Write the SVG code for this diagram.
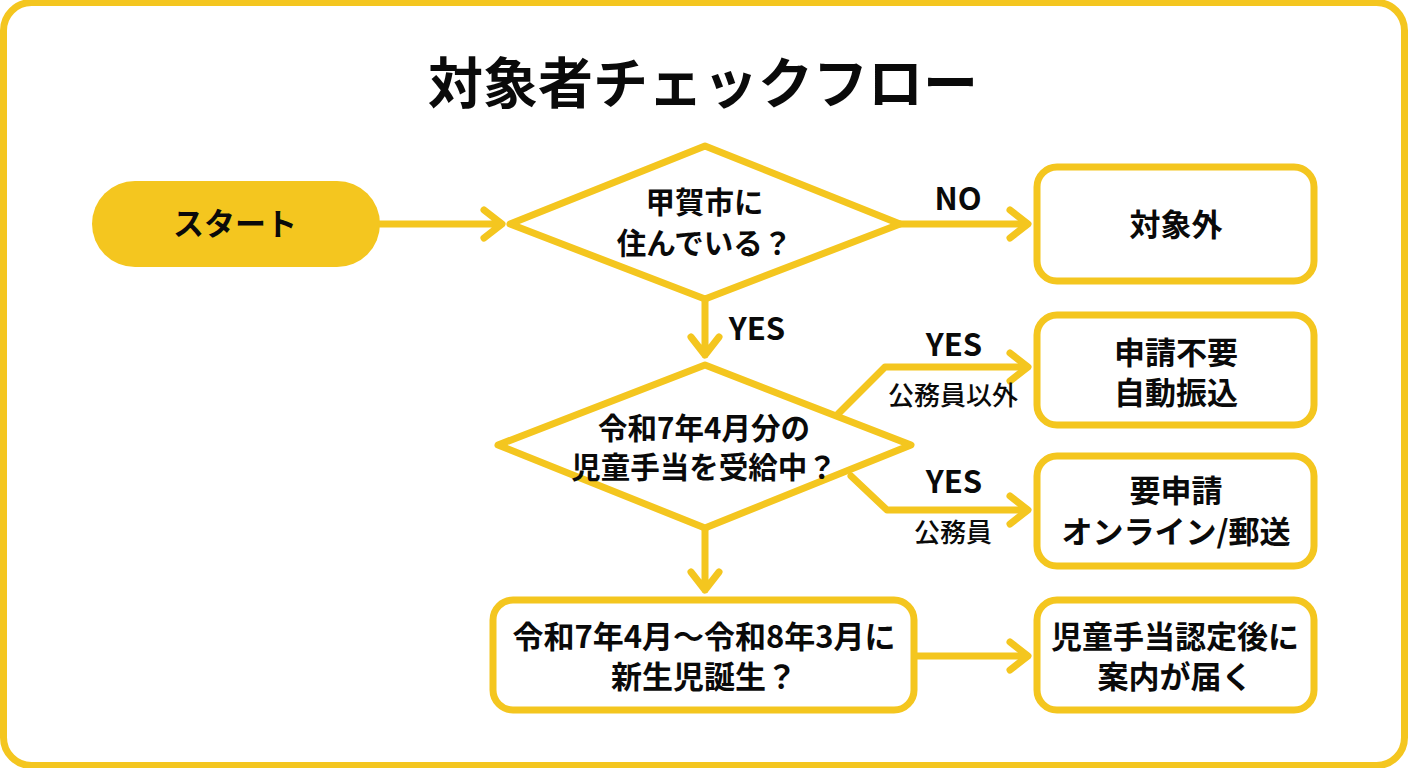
<svg xmlns="http://www.w3.org/2000/svg" width="1408" height="768" viewBox="0 0 1408 768">
<defs><style>
text{font-family:"Noto Sans CJK JP","Noto Sans",sans-serif;font-weight:700;fill:#0a0a0a;text-anchor:middle}
.s{fill:#fff;stroke:#F4C61F;stroke-width:7;stroke-linejoin:round}
.c{fill:none;stroke:#F4C61F;stroke-width:7;stroke-linecap:round;stroke-linejoin:round}
.t{font-size:29.500px}
.w{font-size:31px}
.l{font-size:31px}
.m{font-size:26px;font-weight:500}
</style></defs>
<rect x="0" y="0" width="1408" height="768" fill="#fff"/>
<rect x="3.500" y="2.500" width="1401" height="763" rx="28" fill="#fff" stroke="#F4C61F" stroke-width="7"/>
<text x="703" y="103" font-size="55">対象者チェックフロー</text>
<g id="connectors">
<path class="c" d="M380 224H500M484 210L502 224L484 238"/>
<path class="c" d="M900 224H1027M1010 210L1028 224L1010 238"/>
<path class="c" d="M705 300V355M691 337L705 355L719 337"/>
<path class="c" d="M838 414L885 367H1027M1010 353L1028 367L1010 381"/>
<path class="c" d="M851 476L887 510H1027M1010 496L1028 510L1010 524"/>
<path class="c" d="M705 530V590M691 572L705 590L719 572"/>
<path class="c" d="M915 656H1027M1010 642L1028 656L1010 670"/>
</g>
<g id="start"><rect x="92" y="181" width="288" height="86" rx="43" fill="#F4C61F"/><text class="l" x="235" y="235">スタート</text></g>
<g id="d1"><polygon class="s" points="705,146 900,224 705,299 510,224"/><text class="t" x="704.500" y="213">甲賀市に</text><text class="t" x="704.500" y="254">住んでいる？</text></g>
<g id="d2"><polygon class="s" points="705,365 911,445 705,528 498,445"/><text class="t" x="704" y="439">令和7年4月分の</text><text class="t" x="704" y="478">児童手当を受給中？</text></g>
<g id="n1"><rect class="s" x="1037" y="167" width="277" height="114" rx="20"/><text class="w" x="1176" y="236">対象外</text></g>
<g id="n2"><rect class="s" x="1037" y="315" width="277" height="110" rx="20"/><text class="l" x="1176" y="364">申請不要</text><text class="l" x="1176" y="404">自動振込</text></g>
<g id="n3"><rect class="s" x="1037" y="456" width="277" height="110" rx="20"/><text class="l" x="1176" y="502">要申請</text><text class="l" x="1176" y="543">オンライン/郵送</text></g>
<g id="n4"><rect class="s" x="493" y="600" width="421" height="110" rx="20"/><text class="w" x="704" y="648">令和7年4月～令和8年3月に</text><text class="w" x="704" y="688">新生児誕生？</text></g>
<g id="n5"><rect class="s" x="1037" y="600" width="277" height="110" rx="20"/><text class="w" x="1175" y="648">児童手当認定後に</text><text class="w" x="1175" y="688">案内が届く</text></g>
<g id="labels">
<text class="l" x="958" y="210">NO</text>
<text class="l" x="757" y="340">YES</text>
<text class="l" x="954" y="356">YES</text>
<text class="m" x="953" y="405">公務員以外</text>
<text class="l" x="954" y="493">YES</text>
<text class="m" x="953" y="542">公務員</text>
</g>
</svg>
